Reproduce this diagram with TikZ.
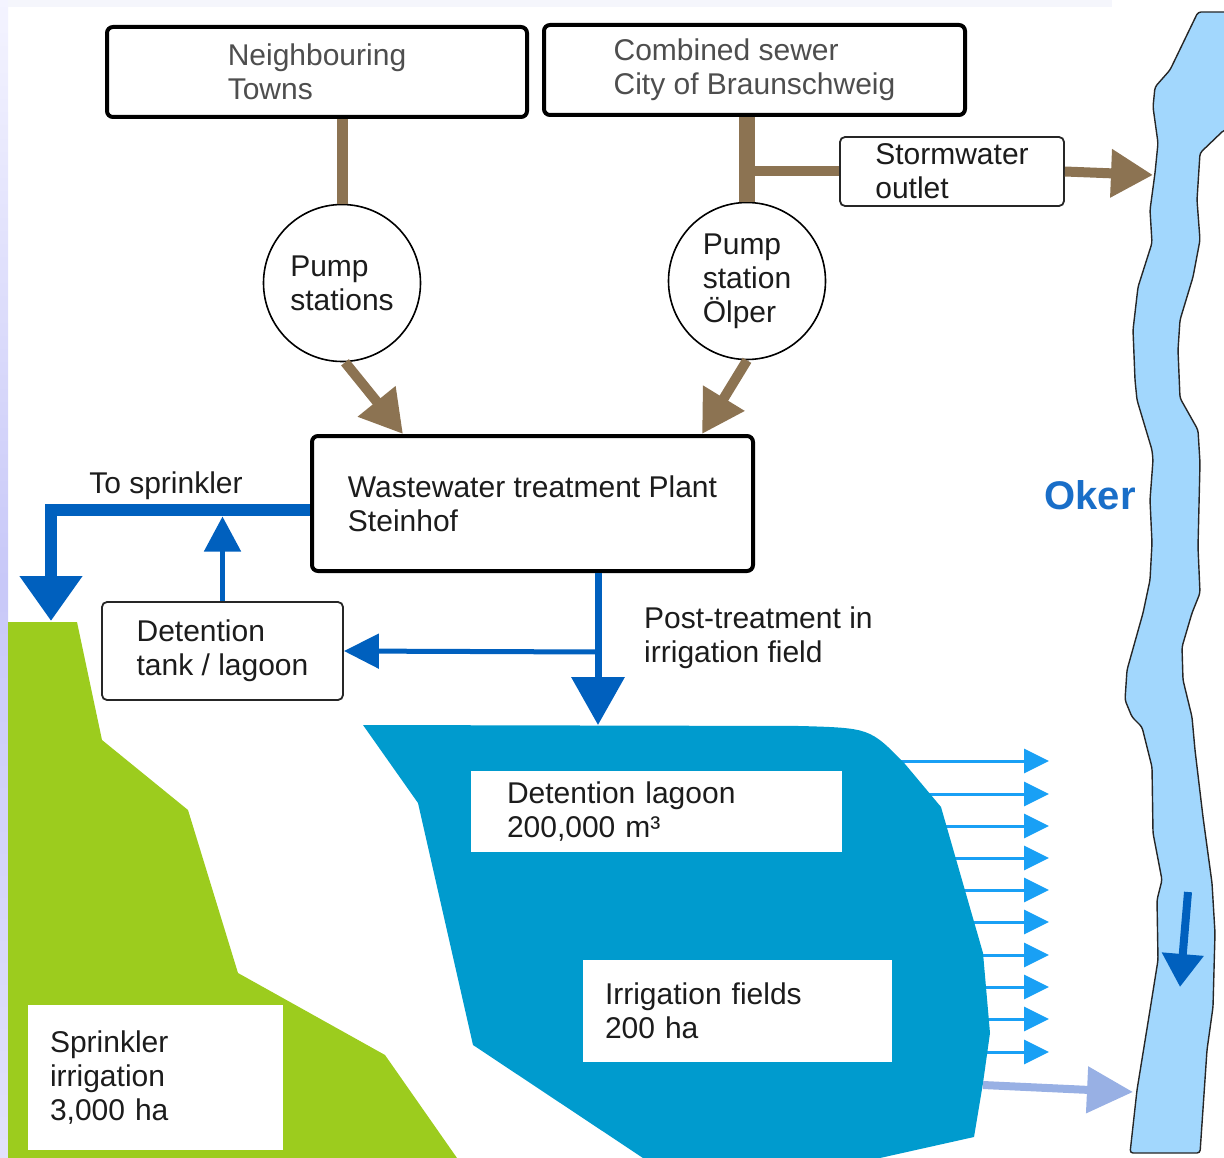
\documentclass[tikz,border=0pt]{standalone}
\usepackage{fontspec}
\setmainfont{Liberation Sans}
\usepackage{xcolor}
\usepackage{tikz}
\usetikzlibrary{shapes.geometric, arrows, positioning}
\usetikzlibrary{arrows.meta, calc}
\definecolor{sewerbrown}{RGB}{140,115,82}
\definecolor{flowblue}{RGB}{0,96,190}
\definecolor{lagoonblue}{RGB}{0,155,206}
\definecolor{seepblue}{RGB}{25,160,245}
\definecolor{dischargeblue}{RGB}{152,176,228}
\definecolor{riverblue}{RGB}{162,215,253}
\definecolor{okerblue}{RGB}{25,110,200}
\definecolor{fieldgreen}{RGB}{156,204,30}
\definecolor{labelgrey}{RGB}{78,78,78}
\definecolor{labeldark}{RGB}{28,28,28}
\definecolor{lilacedge}{RGB}{200,200,248}
\definecolor{lilaclight}{RGB}{244,244,255}
\definecolor{topstrip}{RGB}{245,246,252}
\newcommand{\lbl}{\fontsize{30}{34}\selectfont}
\tikzstyle{mainbox} = [rectangle, rounded corners=6pt, draw=black, line width=4pt, fill=white, align=left, font=\lbl, inner sep=0pt, text=labeldark]
\tikzstyle{smallbox} = [rectangle, rounded corners=5pt, draw=black!85, line width=1.8pt, fill=white, align=left, font=\lbl, inner sep=0pt, text=labeldark]
\tikzstyle{pump} = [circle, draw=black, line width=1.6pt, fill=white, minimum size=157pt, inner sep=0pt, align=left, font=\lbl, text=labeldark]
\tikzstyle{areabox} = [rectangle, fill=white, align=left, font=\lbl, inner ysep=0pt, text=labeldark]
\tikzstyle{sewer} = [draw=sewerbrown, line width=11pt]
\tikzstyle{sewerarrow} = [draw=sewerbrown, line width=10pt, -{Triangle[length=42pt,width=46pt]}]
\tikzstyle{flow} = [draw=flowblue, line width=12pt]
\tikzstyle{thinflow} = [draw=flowblue, line width=5pt]
\tikzstyle{seep} = [draw=seepblue, line width=3pt, -{Triangle[length=25pt,width=24pt]}]

\begin{document}
\begin{tikzpicture}[x=1pt,y=-1pt]
\useasboundingbox (0,0) rectangle (1224,1158);
% backdrop strips
\fill[top color=lilaclight, bottom color=lilaclight!60!lilacedge, middle color=lilacedge] (0,0) rectangle (8,1158);
\fill[topstrip] (8,0) rectangle (1112,7);

% sprinkler area
\fill[fieldgreen] (8,622) -- (77,622) -- (102,740) -- (188,810) -- (238,973)
  -- (385,1055) -- (457,1158) -- (8,1158) -- cycle;

% seepage towards the river
\foreach \yy in {761,794,826,858,890,922,955,987,1019,1052}
  \draw[seep] (900,\yy) -- (1049,\yy);

% irrigation field / lagoon area
\fill[lagoonblue] (363,725) -- (800,726) .. controls (870,728) .. (905,764)
  -- (941,807) -- (983,953) -- (990,1033) -- (983,1083) -- (974,1137)
  -- (880,1158) -- (643,1158) -- (473,1045) -- (418,803) -- cycle;

% river Oker
\filldraw[fill=riverblue, draw=black!85, line width=1.4pt, rounded corners=3pt]
  (1198,12) -- (1170,70) -- (1155,87) -- (1153,107) -- (1158,143) -- (1155,173)
  -- (1150,210) -- (1152,243) -- (1138,287) -- (1133,330) -- (1135,380)
  -- (1137,400) -- (1152,450) -- (1153,460) -- (1150,500) -- (1152,543)
  -- (1150,580) -- (1143,613) -- (1127,670) -- (1125,700) -- (1132,717)
  -- (1142,727) -- (1152,767) -- (1153,833) -- (1162,880) -- (1157,900)
  -- (1158,960) -- (1150,1010) -- (1137,1090) -- (1130,1153) -- (1200,1153)
  -- (1207,1050) -- (1213,1007) -- (1215,933) -- (1212,883) -- (1203,817)
  -- (1195,750) -- (1192,717) -- (1183,680) -- (1182,647) -- (1192,613)
  -- (1200,593) -- (1198,547) -- (1200,463) -- (1198,430) -- (1180,398)
  -- (1178,350) -- (1180,320) -- (1193,277) -- (1200,240) -- (1197,200)
  -- (1200,153) -- (1224,130) -- (1232,130) -- (1232,12) -- cycle;
\draw[draw=flowblue, line width=8pt, -{Triangle[length=33pt,width=40pt]}] (1188,892) -- (1180,987);
\coordinate (okerin) at (1153,175);
\coordinate (okerlow) at (1133,1092);
\coordinate (lagedge) at (983,1085);
\draw[draw=dischargeblue, line width=8pt, -{Triangle[length=46pt,width=45pt]}] (lagedge) -- (okerlow);

% sources
\node[mainbox, text=labelgrey, minimum width=420pt, minimum height=90pt] (towns) at (317,72) {Neighbouring\\Towns};
\node[mainbox, text=labelgrey, minimum width=421pt, minimum height=90pt] (sewer) at (754.5,70) {Combined sewer\\City of Braunschweig};
\node[smallbox, minimum width=224pt, minimum height=69pt] (storm) at (952,171.5) {Stormwater\\outlet};
\node[pump] (pumps) at (342,283) {Pump\\stations};
\node[pump] (olper) at (747,281) {Pump\\station\\Ölper};

% treatment
\node[mainbox, minimum width=441pt, minimum height=135pt] (wwtp) at (532.5,503.5) {Wastewater treatment Plant\\Steinhof};
\node[smallbox, minimum width=241pt, minimum height=98pt] (tank) at (222.5,651) {Detention\\tank / lagoon};

% areas
\node[areabox, text width=211pt, inner xsep=22pt, minimum height=145pt] (sprinkler) at (155.5,1077.5) {Sprinkler\\irrigation\\3,000 ha};
\node[areabox, text width=299pt, inner xsep=36pt, minimum height=81pt] (lagoon) at (656.5,811.5) {Detention lagoon\\200,000 m³};
\node[areabox, text width=265pt, inner xsep=22pt, minimum height=102pt] (fields) at (737.5,1011) {Irrigation fields\\200 ha};

% free labels
\node[font=\lbl, text=labeldark, inner sep=0pt] (tosprk) at (166,486) {To sprinkler};
\node[font=\lbl, text=labeldark, align=left, inner sep=0pt, anchor=west] (post) at (644,638) {Post-treatment in\\irrigation field};
\node[font=\fontsize{40}{44}\selectfont\bfseries, text=okerblue, inner sep=0pt] (oker) at (1090,495) {Oker};

% sewage lines
\draw[sewer] (pumps.north |- towns.south) -- (pumps.north);
\draw[sewer, line width=16pt] (olper.north |- sewer.south) -- (olper.north);
\draw[sewer, line width=10pt] (olper.north |- storm.west) -- (storm.west);
\draw[sewerarrow] (storm.east) -- (okerin);
\draw[sewerarrow] ([xshift=3pt]pumps.south) -- ([xshift=93pt]wwtp.north west);
\draw[sewerarrow] (olper.south) -- ([xshift=-53pt]wwtp.north east);

% treated water
\coordinate (spray) at (51,621);
\coordinate (sprkline) at ([yshift=-13pt]wwtp.west);
\coordinate (lagtop) at (598,725);
\coordinate (fork) at (598,652);
\draw[flow, -{Triangle[length=45pt,width=60pt]}] ([yshift=-6.5pt]wwtp.west) -| (spray);
\draw[thinflow, -{Triangle[length=35pt,width=36pt]}] (tank.north) -- (tank.north |- sprkline);
\draw[draw=flowblue, line width=7pt, -{Triangle[length=48pt,width=52pt]}] (wwtp.south -| lagtop) -- (lagtop);
\draw[thinflow, -{Triangle[length=35pt,width=34pt]}] (fork) -- (tank.east);
\end{tikzpicture}
\end{document}
